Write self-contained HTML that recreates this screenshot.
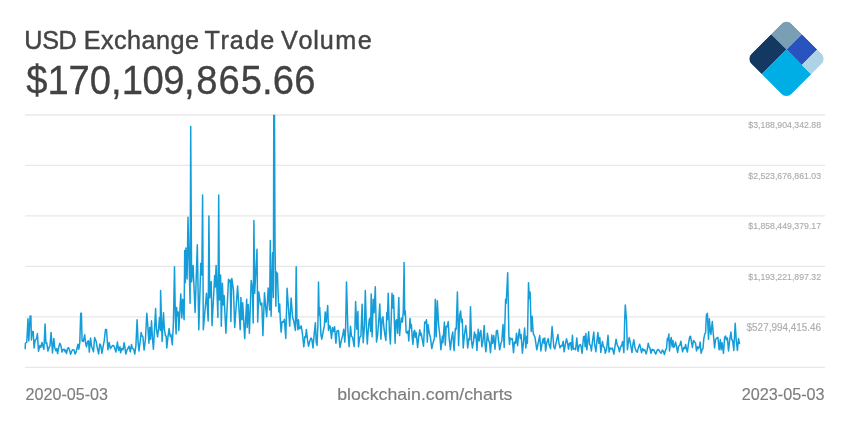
<!DOCTYPE html>
<html><head><meta charset="utf-8"><title>USD Exchange Trade Volume</title>
<style>
html,body{margin:0;padding:0;background:#fff;}
body{width:850px;height:425px;overflow:hidden;font-family:"Liberation Sans",sans-serif;}
svg{display:block}
text{font-family:"Liberation Sans",sans-serif;}
</style></head><body>
<svg width="850" height="425" viewBox="0 0 850 425">
<rect width="850" height="425" fill="#fff"/>
<g id="grid" stroke="#e8e8e8" stroke-width="1.35">
<line x1="25" x2="825" y1="115.0" y2="115.0"/>
<line x1="25" x2="825" y1="165.4" y2="165.4"/>
<line x1="25" x2="825" y1="215.9" y2="215.9"/>
<line x1="25" x2="825" y1="266.4" y2="266.4"/>
<line x1="25" x2="825" y1="316.9" y2="316.9"/>
<line x1="25" x2="825" y1="367.3" y2="367.3"/>
</g>
<text id="title" transform="scale(0.955,1)" font-size="26.4" fill="#444" stroke="#444" stroke-width="0.45" y="49.1" x="25.50 44.17 61.30 79.94 87.64 105.77 119.43 133.10 148.29 163.48 178.66 193.85 208.53 214.20 230.86 240.65 256.59 272.54 287.22 294.23 312.46 328.04 334.82 351.12 374.72">USD Exchange Trade Volume</text>
<text id="big" transform="scale(0.955,1)" font-size="40" fill="#424242" stroke="#424242" stroke-width="0.3" y="94.4" x="27.49 49.64 71.79 93.93 116.22 127.50 149.24 170.98 192.76 205.63 228.87 252.12 274.44 285.58 308.09">$170,109,865.66</text>
<g id="ylabels" fill="#adadad" stroke="#adadad" stroke-width="0.15">
<text x="748.3" y="128.2" font-size="9.2" textLength="72.7" lengthAdjust="spacingAndGlyphs">$3,188,904,342.88</text>
<text x="748.3" y="178.6" font-size="9.2" textLength="72.7" lengthAdjust="spacingAndGlyphs">$2,523,676,861.03</text>
<text x="748.3" y="229.1" font-size="9.2" textLength="72.7" lengthAdjust="spacingAndGlyphs">$1,858,449,379.17</text>
<text x="748.3" y="279.6" font-size="9.2" textLength="72.7" lengthAdjust="spacingAndGlyphs">$1,193,221,897.32</text>
<text x="746.6" y="330.7" font-size="10.4" textLength="74.4" lengthAdjust="spacingAndGlyphs">$527,994,415.46</text>
</g>
<g id="xlabels" font-size="17" fill="#7d7d7d" stroke="#7d7d7d" stroke-width="0.15">
<text x="25.6" y="400.4" textLength="82.4" lengthAdjust="spacingAndGlyphs">2020-05-03</text>
<text x="337.2" y="400.4" textLength="175.3" lengthAdjust="spacingAndGlyphs">blockchain.com/charts</text>
<text x="741.8" y="400.4" textLength="82.8" lengthAdjust="spacingAndGlyphs">2023-05-03</text>
</g>
<defs><clipPath id="cc"><rect x="0" y="114.8" width="850" height="300"/></clipPath><clipPath id="lc"><rect x="-28.4" y="-28.4" width="56.8" height="56.8" rx="7.5" ry="7.5"/></clipPath></defs>
<g id="logo" transform="translate(786.5,58.9) rotate(45)" clip-path="url(#lc)">
<rect x="-28.4" y="-28.4" width="21.799999999999997" height="21.799999999999997" fill="#7a9fb4"/>
<rect x="-28.4" y="-6.6" width="21.799999999999997" height="35.0" fill="#133963"/>
<rect x="-6.6" y="-6.6" width="35.0" height="35.0" fill="#00aee6"/>
<rect x="-6.6" y="-28.4" width="21.66" height="21.799999999999997" fill="#2953bd"/>
<rect x="15.06" y="-28.4" width="13.339999999999998" height="21.799999999999997" fill="#add3e6"/>
</g>
<polyline id="line" clip-path="url(#cc)" fill="none" stroke="#149dd8" stroke-width="1.5" stroke-linejoin="round" stroke-linecap="round" points="25.2,348.6 25.4,343.3 26.8,342.1 28.0,318.8 28.8,340.9 30.1,316.0 30.9,316.0 31.4,340.0 32.2,331.5 33.2,331.5 34.1,348.0 35.1,340.4 36.5,338.8 37.4,333.6 38.5,351.3 39.8,345.6 40.8,347.4 42.0,342.4 42.9,346.2 43.9,349.2 45.1,324.1 45.9,343.3 46.7,342.7 47.9,350.9 49.1,347.4 50.0,345.6 51.1,332.4 52.5,352.9 53.8,338.4 54.8,348.0 56.0,350.9 56.8,348.6 57.6,353.6 58.6,348.0 59.8,343.3 60.9,345.4 62.0,352.1 63.1,349.4 64.2,349.2 65.1,351.8 65.6,350.1 66.5,353.6 67.6,348.2 68.7,347.8 69.6,350.4 70.6,354.2 71.8,350.9 72.7,349.8 74.1,350.1 75.1,354.1 76.0,352.5 77.1,348.0 78.0,344.2 78.8,349.2 79.8,342.7 80.7,313.3 81.4,313.3 82.1,340.9 83.3,341.5 84.7,334.8 85.6,343.3 86.5,346.8 87.6,341.5 88.6,340.9 89.3,352.1 90.6,338.0 91.5,345.6 92.2,348.0 93.5,351.8 94.6,337.6 96.2,341.5 97.3,348.0 98.6,353.9 99.8,343.9 100.8,345.4 101.9,353.3 103.3,345.6 104.2,340.9 105.5,329.4 106.5,329.4 107.9,349.8 109.1,342.4 110.4,348.6 111.5,346.8 112.9,345.4 114.1,346.2 115.9,352.1 117.4,342.1 118.6,350.4 120.0,346.8 120.6,352.7 121.8,348.6 123.0,349.8 124.1,342.7 125.0,348.0 125.8,354.1 127.1,349.8 128.2,348.0 129.1,346.2 130.3,351.8 131.5,344.5 132.4,348.6 133.6,348.9 134.8,354.1 135.9,345.6 137.1,319.8 138.1,342.1 139.0,350.9 140.1,342.1 141.1,332.5 142.1,336.2 142.9,336.8 144.1,350.1 145.4,339.8 146.8,313.3 147.9,326.8 148.9,343.3 149.7,327.4 150.5,339.2 151.5,320.7 152.4,337.4 153.4,349.2 154.4,331.5 155.6,308.6 156.4,329.2 157.6,336.8 158.5,329.2 159.5,317.4 160.3,330.4 160.6,290.6 162.1,341.5 163.5,312.7 164.4,329.2 165.4,335.6 166.2,336.2 166.8,348.0 167.9,337.4 169.1,328.6 170.1,336.2 170.9,334.5 172.3,344.7 173.4,323.0 174.5,266.8 175.4,318.0 176.1,333.9 176.6,307.4 177.3,316.0 178.2,312.0 178.8,330.4 180.8,294.0 181.8,318.0 182.7,299.2 184.1,319.8 184.7,250.5 185.3,282.7 185.9,248.0 187.1,279.0 188.0,217.3 190.1,303.3 190.7,126.6 191.6,282.0 193.1,265.6 195.1,312.5 197.3,244.8 198.8,329.8 200.8,263.3 201.8,275.0 202.6,194.9 203.3,329.8 206.5,293.3 208.2,320.9 208.9,216.1 209.7,298.0 211.2,281.5 212.0,325.6 214.7,275.6 215.3,287.0 216.1,265.6 217.9,317.4 218.7,195.0 219.4,300.0 220.6,275.0 221.3,326.2 222.4,283.3 223.3,305.0 224.1,295.6 225.9,333.3 228.5,279.2 229.4,282.0 230.2,280.0 230.9,321.5 231.8,278.4 233.5,289.8 234.7,327.4 237.6,286.0 240.2,329.8 240.9,297.4 242.0,319.8 242.7,302.7 244.7,338.6 246.7,299.2 247.2,327.4 248.2,304.5 249.4,333.3 251.2,280.4 252.3,287.4 253.2,323.1 253.9,220.4 254.7,293.3 257.0,249.2 257.7,322.1 258.8,292.1 260.6,305.0 261.8,303.0 262.9,335.6 264.5,292.7 265.9,310.0 266.7,316.8 268.2,288.0 269.6,310.0 270.3,240.4 271.1,316.2 272.6,252.7 273.4,297.4 273.8,95.0 274.4,95.0 275.0,244.5 275.9,306.2 276.3,272.1 276.9,280.0 277.4,273.3 278.8,312.0 279.7,303.9 280.3,320.0 281.1,332.1 282.1,321.5 283.6,322.1 284.4,319.2 285.8,338.4 287.1,288.2 289.7,326.2 291.1,298.0 292.6,317.4 293.6,320.4 295.4,330.4 296.2,266.8 296.9,319.8 297.9,329.8 298.5,319.8 299.1,328.0 299.9,328.6 301.2,325.9 302.4,333.3 303.8,346.8 304.8,336.8 305.6,337.4 306.4,329.4 307.4,339.2 308.5,346.2 309.7,341.5 310.9,338.0 311.8,339.2 313.0,348.0 314.2,333.9 315.4,322.7 316.2,342.1 317.0,345.4 317.9,325.6 318.5,281.9 319.2,315.1 319.7,307.4 320.3,319.8 320.9,334.5 321.8,339.2 323.2,331.5 324.4,325.6 325.2,312.1 326.2,322.1 327.7,305.4 328.5,330.4 329.5,325.6 330.3,326.8 331.5,338.6 332.6,327.4 333.6,331.5 334.6,326.8 335.9,343.3 337.0,330.9 338.5,330.4 339.9,347.4 341.5,339.8 342.6,335.6 343.8,329.2 344.8,342.1 345.6,329.2 346.5,281.9 347.9,330.4 349.1,346.8 350.5,326.2 351.5,336.2 352.6,337.4 354.1,346.6 355.0,325.6 355.6,301.5 356.8,329.2 357.9,311.5 358.5,346.8 359.7,337.4 360.9,336.2 362.1,304.2 363.2,342.7 364.5,325.6 365.3,290.4 366.5,329.2 367.3,343.9 368.2,330.4 369.2,319.8 370.0,318.0 370.6,331.5 371.2,293.9 372.1,336.8 373.2,299.2 374.1,312.7 375.3,286.8 376.5,342.1 377.6,335.1 378.8,319.8 379.8,303.9 380.9,339.2 382.1,318.6 382.9,316.8 384.1,329.2 385.1,336.2 385.9,340.4 386.8,312.5 387.4,319.8 388.2,293.3 389.4,331.5 390.4,343.9 391.2,319.8 392.0,293.3 392.7,308.0 393.5,295.3 395.1,343.3 395.9,320.9 396.7,319.8 397.6,333.3 398.8,297.4 399.6,335.6 400.6,323.3 401.4,318.0 402.4,322.1 403.3,310.4 404.1,262.4 404.7,315.1 405.3,310.9 406.1,332.1 407.1,333.3 408.0,330.9 408.8,340.9 410.0,318.6 410.8,328.0 411.4,324.5 412.1,335.6 412.9,344.5 413.9,331.5 414.7,330.4 415.3,337.4 416.2,332.7 417.6,347.4 418.8,336.2 419.8,329.8 420.6,335.6 421.2,333.3 422.1,338.6 423.5,346.2 424.7,322.1 425.6,323.3 426.5,319.8 427.3,342.1 428.0,324.5 429.2,332.7 430.4,337.4 431.8,348.6 432.9,343.3 434.4,338.6 435.3,299.2 436.2,336.8 437.3,300.7 438.6,324.5 439.8,335.1 440.9,349.8 442.4,336.2 442.9,342.7 444.4,322.1 445.3,345.1 446.2,326.2 447.3,326.8 448.2,321.5 449.1,337.4 450.4,349.8 451.5,338.6 452.7,332.1 454.1,350.6 455.3,328.6 456.2,329.2 457.4,292.1 458.6,345.6 459.7,315.1 460.6,310.9 461.5,322.1 462.3,319.2 463.2,348.0 464.4,335.1 465.8,325.6 466.8,335.1 467.7,348.0 468.9,338.6 469.7,339.8 470.5,306.8 471.5,339.8 472.4,348.0 473.6,340.9 474.4,332.1 475.2,337.4 475.9,334.5 477.0,350.4 478.2,329.2 479.1,340.9 479.9,333.3 480.9,330.4 481.8,346.8 483.0,340.9 484.2,325.4 485.0,343.3 485.9,351.8 487.4,333.3 488.5,340.4 489.4,342.1 490.5,352.7 491.8,335.1 492.6,343.3 493.8,335.6 495.0,349.2 496.4,330.9 497.4,330.4 498.3,338.6 499.7,349.8 500.9,343.3 501.8,340.9 503.0,324.5 504.2,347.4 505.6,299.2 506.2,303.3 507.7,272.7 508.9,336.2 509.5,344.5 510.3,338.0 511.5,339.2 512.3,338.6 513.5,352.7 514.4,342.1 515.6,343.3 516.5,333.3 517.6,345.6 518.3,337.4 519.4,329.2 520.3,338.6 521.1,334.5 522.4,353.3 523.6,340.9 524.6,328.0 525.8,348.0 526.8,336.2 527.4,343.3 528.5,282.7 529.4,298.6 530.1,292.1 531.2,331.5 532.1,316.2 533.2,333.3 535.0,337.4 536.8,349.8 537.9,344.5 539.7,335.6 540.9,350.9 542.1,343.3 543.2,338.6 544.1,343.3 544.8,338.0 545.6,350.9 546.8,342.7 548.2,338.6 549.1,344.5 550.5,348.6 552.1,326.6 553.8,346.8 554.9,348.9 556.5,340.9 557.9,334.5 558.8,342.1 560.0,347.8 561.2,345.6 562.1,345.9 563.2,341.2 564.1,351.8 565.3,344.5 566.5,338.8 567.4,342.1 568.5,349.2 569.4,343.3 570.6,342.7 571.5,350.1 572.4,335.3 573.3,349.2 574.5,348.6 575.6,349.8 576.8,338.0 578.0,351.3 579.2,345.4 580.4,344.5 581.2,346.8 582.1,353.3 583.5,336.8 584.4,336.2 585.1,346.8 585.9,333.6 586.8,349.8 587.6,343.3 588.6,331.8 589.6,344.5 590.6,345.6 591.4,350.9 592.6,340.4 593.8,332.1 594.5,343.3 595.9,351.8 596.8,342.1 597.9,332.5 598.8,343.3 599.8,337.4 600.8,352.5 602.4,341.5 603.5,346.8 604.5,347.4 605.3,353.3 606.7,348.6 608.0,335.3 609.1,352.1 610.2,348.0 611.2,348.9 612.4,348.0 613.9,354.1 615.1,345.6 616.1,339.2 617.3,345.1 618.5,347.4 619.4,351.8 620.6,346.8 621.5,345.9 622.6,341.5 623.9,352.7 624.7,319.8 625.3,304.9 626.5,319.8 627.4,349.8 628.2,343.3 629.2,337.4 630.4,343.3 632.0,352.5 632.9,344.5 633.8,339.8 634.9,347.4 636.1,350.9 637.3,352.1 638.5,347.4 639.6,344.2 640.6,348.0 641.5,352.7 642.7,348.6 643.8,350.6 644.7,349.8 646.2,353.9 647.1,350.4 648.2,343.3 649.1,346.8 649.9,348.0 650.9,353.3 652.1,349.2 653.0,350.4 653.8,349.8 654.8,352.1 655.8,354.1 657.0,350.4 657.9,349.4 659.1,350.4 660.3,352.5 661.2,353.3 662.3,350.1 663.2,350.9 664.4,354.5 665.6,349.8 666.5,348.6 667.4,338.4 667.9,340.4 668.9,334.1 669.5,350.9 670.3,342.1 671.2,337.4 672.1,346.8 672.9,340.4 673.8,347.4 674.6,345.6 675.6,342.1 676.5,346.8 677.7,352.5 678.5,346.2 679.7,345.6 680.9,341.2 681.7,346.8 682.6,351.8 683.8,347.4 684.8,348.6 685.6,344.5 686.5,349.2 687.4,352.1 688.5,343.3 689.7,336.8 690.5,336.2 691.5,342.1 692.4,347.4 693.5,340.4 694.6,342.1 695.6,343.3 696.5,350.9 697.6,346.8 698.5,348.6 699.4,346.8 700.1,342.1 701.1,353.3 702.3,349.2 703.0,348.6 703.8,338.6 704.8,333.9 705.6,332.7 706.4,315.1 707.4,313.3 708.5,339.2 709.4,318.8 710.3,330.9 710.9,334.5 712.3,321.5 713.2,332.7 714.6,348.0 715.6,339.2 716.8,338.0 717.9,337.4 719.1,349.8 720.3,339.5 721.1,349.8 722.1,342.7 723.5,353.3 724.6,337.4 725.6,336.0 726.4,339.8 727.4,338.0 728.5,350.9 729.7,339.8 730.9,332.1 731.8,339.8 732.6,340.4 733.8,350.4 735.2,323.3 736.2,339.8 737.4,350.4 738.5,338.6 739.5,343.3"/>
</svg>
</body></html>
